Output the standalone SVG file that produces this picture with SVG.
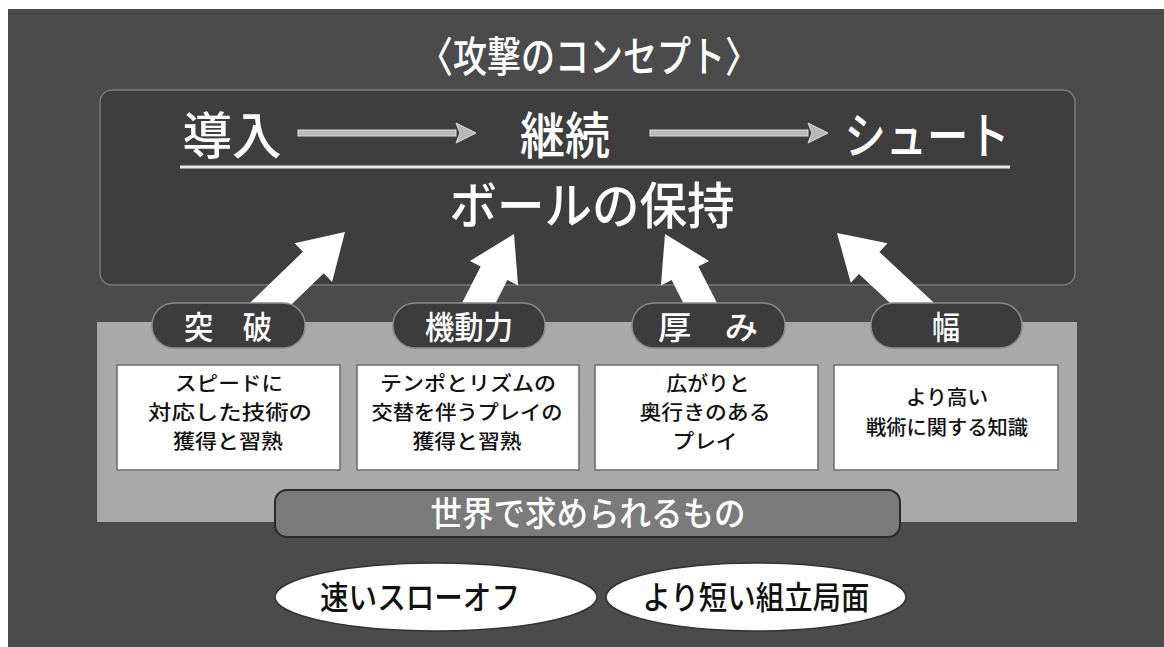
<svg xmlns="http://www.w3.org/2000/svg" width="1164" height="647" viewBox="0 0 1164 647">
<style>
.jp{font-family:"Noto Sans CJK JP","Noto Sans CJK SC",sans-serif;font-weight:500;}
.w{fill:#ffffff;}
.k{fill:#111111;}
.tab{fill:#3c3c3c;stroke:#8a8a8a;stroke-width:1.5;}
.box{fill:#ffffff;stroke:#6a6a6a;stroke-width:1.5;}
.big{font-size:50px;}
.tl{font-size:32px;}
.bt{font-size:20px;}
.ell{fill:#ffffff;stroke:#333;stroke-width:1.5;}
.ar{fill:#ffffff;}
</style>
<rect x="0" y="0" width="1164" height="647" fill="#ffffff"/>
<rect id="bg" x="8" y="9" width="1156" height="638" fill="#4b4b4b"/>
<g id="title"><text class="jp w" x="589" y="72" font-size="42" text-anchor="middle" textLength="340" lengthAdjust="spacingAndGlyphs">〈攻撃のコンセプト〉</text></g>
<g id="top-panel">
<rect x="100" y="90" width="975" height="195" rx="12" fill="#3e3e3e" stroke="#7a7a7a" stroke-width="1.5"/>
<line x1="180" y1="167" x2="1010" y2="167" stroke="#e8e8e8" stroke-width="3"/>
</g>
<g id="n-dounyu"><text class="jp w big" x="232" y="154" text-anchor="middle" textLength="99" lengthAdjust="spacingAndGlyphs">導入</text></g>
<g id="n-keizoku"><text class="jp w big" x="565" y="154" text-anchor="middle" textLength="90" lengthAdjust="spacingAndGlyphs">継続</text></g>
<g id="n-shoot"><text class="jp w big" x="927" y="154" text-anchor="middle" textLength="165" lengthAdjust="spacingAndGlyphs">シュート</text></g>
<g id="n-hoji"><text class="jp w big" x="592" y="224" text-anchor="middle" textLength="285" lengthAdjust="spacingAndGlyphs">ボールの保持</text></g>
<g id="lower-panel">
<rect x="97" y="322" width="980" height="200" fill="#a9a9a9"/>
</g>
<g id="connectors">
<g fill="#b8b8b8" stroke="#dddddd" stroke-width="1">
<rect x="298" y="130" width="158" height="6"/>
<polygon points="456,123 476,133 456,143 460,133"/>
<rect x="650" y="130" width="158" height="6"/>
<polygon points="808,123 828,133 808,143 812,133"/>
</g>
<polygon class="ar" points="0,0 -44,-27 -44,-15 -125,-15 -125,15 -44,15 -44,27" transform="translate(345,232) rotate(-44)"/>
<polygon class="ar" points="0,0 -44,-27 -44,-15 -100,-15 -100,15 -44,15 -44,27" transform="translate(514,234) rotate(-63)"/>
<polygon class="ar" points="0,0 -44,-27 -44,-15 -100,-15 -100,15 -44,15 -44,27" transform="translate(665,234) rotate(-117)"/>
<polygon class="ar" points="0,0 -44,-27 -44,-15 -120,-15 -120,15 -44,15 -44,27" transform="translate(837,233) rotate(-137)"/>
</g>
<g id="t-toppa"><rect class="tab" x="152" y="303" width="153" height="45" rx="22"/><text class="jp w tl" x="228" y="339" text-anchor="middle" textLength="88" lengthAdjust="spacingAndGlyphs">突　破</text></g>
<g id="t-kidou"><rect class="tab" x="393" y="303" width="152" height="45" rx="22"/><text class="jp w tl" x="469" y="339" text-anchor="middle" textLength="88" lengthAdjust="spacingAndGlyphs">機動力</text></g>
<g id="t-atsumi"><rect class="tab" x="632" y="303" width="153" height="45" rx="22"/><text class="jp w tl" x="708" y="339" text-anchor="middle" textLength="100" lengthAdjust="spacingAndGlyphs">厚　み</text></g>
<g id="t-haba"><rect class="tab" x="871" y="303" width="151" height="45" rx="22"/><text class="jp w tl" x="946" y="339" text-anchor="middle" textLength="28" lengthAdjust="spacingAndGlyphs">幅</text></g>
<g id="b1"><rect class="box" x="117" y="365" width="223" height="105"/>
<text class="jp k bt" text-anchor="middle"><tspan x="229" y="391" textLength="108" lengthAdjust="spacingAndGlyphs">スピードに</tspan><tspan x="230" y="420" textLength="164" lengthAdjust="spacingAndGlyphs">対応した技術の</tspan><tspan x="228" y="449" textLength="110" lengthAdjust="spacingAndGlyphs">獲得と習熟</tspan></text></g>
<g id="b2"><rect class="box" x="357" y="365" width="222" height="105"/>
<text class="jp k bt" text-anchor="middle"><tspan x="468" y="391" textLength="176" lengthAdjust="spacingAndGlyphs">テンポとリズムの</tspan><tspan x="467" y="420" textLength="191" lengthAdjust="spacingAndGlyphs">交替を伴うプレイの</tspan><tspan x="467" y="449" textLength="109" lengthAdjust="spacingAndGlyphs">獲得と習熟</tspan></text></g>
<g id="b3"><rect class="box" x="595" y="365" width="223" height="105"/>
<text class="jp k bt" text-anchor="middle"><tspan x="708" y="391" textLength="83" lengthAdjust="spacingAndGlyphs">広がりと</tspan><tspan x="705" y="420" textLength="131" lengthAdjust="spacingAndGlyphs">奥行きのある</tspan><tspan x="705" y="449" textLength="65" lengthAdjust="spacingAndGlyphs">プレイ</tspan></text></g>
<g id="b4"><rect class="box" x="834" y="365" width="224" height="105"/>
<text class="jp k bt" text-anchor="middle"><tspan x="947" y="405" textLength="82" lengthAdjust="spacingAndGlyphs">より高い</tspan><tspan x="947" y="435" textLength="162" lengthAdjust="spacingAndGlyphs">戦術に関する知識</tspan></text></g>
<g id="n-sekai"><rect x="275" y="490" width="625" height="47" rx="12" fill="#7a7a7a" stroke="#2a2a2a" stroke-width="2"/>
<text class="jp w" x="588" y="526" font-size="34" text-anchor="middle" textLength="315" lengthAdjust="spacingAndGlyphs">世界で求められるもの</text></g>
<g id="e1"><ellipse class="ell" cx="436" cy="597" rx="161" ry="34"/><text class="jp k" x="420" y="609" font-size="32" text-anchor="middle" textLength="200" lengthAdjust="spacingAndGlyphs">速いスローオフ</text></g>
<g id="e2"><ellipse class="ell" cx="756" cy="597" rx="150" ry="34"/><text class="jp k" x="756" y="609" font-size="32" text-anchor="middle" textLength="227" lengthAdjust="spacingAndGlyphs">より短い組立局面</text></g>
</svg>
